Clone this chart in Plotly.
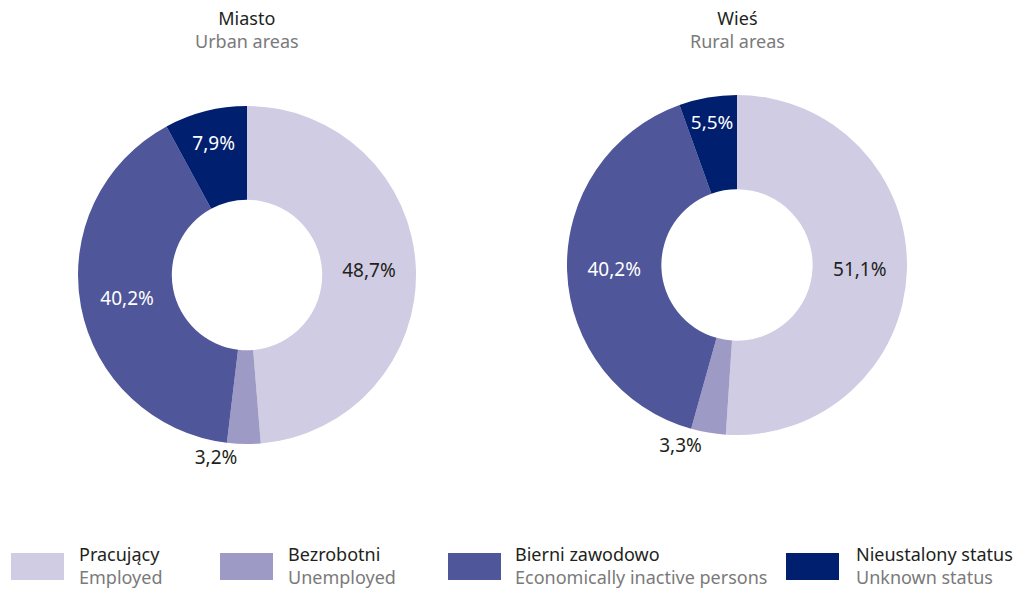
import plotly.graph_objects as go

categories_pl = ["Pracujący", "Bezrobotni", "Bierni zawodowo", "Nieustalony status"]
categories_en = ["Employed", "Unemployed", "Economically inactive persons", "Unknown status"]
urban_values = [48.7, 3.2, 40.2, 7.9]
rural_values = [51.1, 3.3, 40.2, 5.5]
colors = ["#CFCCE3", "#9D9AC5", "#4F5699", "#00206F"]
text_colors = ["#231F20", "#231F20", "#FFFFFF", "#FFFFFF"]
text_positions = ["inside", "outside", "inside", "inside"]
titles_pl = ["Miasto", "Wieś"]
titles_en = ["Urban areas", "Rural areas"]

FONT = "Noto Sans"
W, H = 1021, 589
TXT = 18.6
PCT = 19
GRAY = "#7A7A7A"

def fmt(v):
    return f"{v:.1f}".replace(".", ",") + "%"

def px_x(x):
    return x / W

def px_y(y):
    return 1 - y / H

fig = go.Figure()

pie_boxes = [
    dict(x=[px_x(78), px_x(416)], y=[px_y(444), px_y(106)]),
    dict(x=[px_x(567), px_x(907)], y=[px_y(435), px_y(95)]),
]

for vals, box in zip([urban_values, rural_values], pie_boxes):
    fig.add_trace(go.Pie(
        labels=categories_pl,
        values=vals,
        text=[fmt(v) for v in vals],
        textinfo="text",
        textposition=text_positions,
        insidetextorientation="horizontal",
        insidetextfont=dict(color=text_colors, size=PCT, family=FONT),
        outsidetextfont=dict(color="#231F20", size=PCT, family=FONT),
        marker=dict(colors=colors, line=dict(width=0)),
        hole=0.445,
        sort=False,
        direction="clockwise",
        rotation=0,
        domain=box,
        showlegend=False,
        hoverinfo="label+text",
    ))

annotations = []
title_centers = [247, 737]
for cx, tpl, ten in zip(title_centers, titles_pl, titles_en):
    annotations.append(dict(x=px_x(cx), y=px_y(29), xref="paper", yref="paper",
                            text=f"{tpl}<br><span style='color:{GRAY}'>{ten}</span>",
                            showarrow=False, xanchor="center", yanchor="middle",
                            font=dict(family=FONT, size=18, color="#231F20")))

shapes = []
swatch_x = [11, 220, 448, 786]
text_x = [77, 286, 513, 854]
for i in range(4):
    shapes.append(dict(type="rect", xref="paper", yref="paper",
                       x0=px_x(swatch_x[i]), x1=px_x(swatch_x[i] + 53),
                       y0=px_y(580), y1=px_y(553),
                       fillcolor=colors[i], line=dict(width=0)))
    annotations.append(dict(x=px_x(text_x[i]), y=px_y(565.5), xref="paper", yref="paper",
                            text=f"{categories_pl[i]}<br><span style='color:{GRAY}'>{categories_en[i]}</span>",
                            showarrow=False, xanchor="left", yanchor="middle", align="left",
                            font=dict(family=FONT, size=18, color="#231F20")))

fig.update_layout(
    width=W, height=H,
    margin=dict(l=0, r=0, t=0, b=0),
    paper_bgcolor="white",
    plot_bgcolor="white",
    annotations=annotations,
    shapes=shapes,
    font=dict(family=FONT),
)

fig.write_html("out.html", config={"displayModeBar": False},
               post_script="document.body.style.margin='0px';")
